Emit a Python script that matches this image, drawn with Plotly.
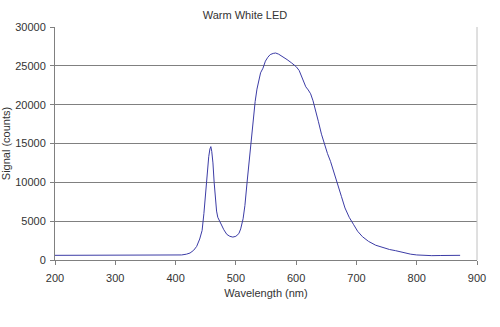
import plotly.graph_objects as go

# Emission spectrum of a warm white LED (wavelength in nm, detector counts)
wavelength_nm = [200, 250, 300, 350, 400, 410, 418, 424, 430, 435, 440, 444, 447, 450,
                 453, 455, 457, 458.5, 460, 462, 464, 466, 468, 470, 473, 476, 480, 485,
                 490, 495, 500, 505, 508, 512, 515, 519, 522, 526, 529, 532, 535, 538,
                 541, 545, 549, 553, 557, 562, 566, 571, 578, 585, 592, 600, 605, 609,
                 613, 616, 620, 624, 628, 632, 637, 642, 647, 652, 657, 663, 669, 675,
                 681, 688, 695, 702, 710, 720, 732, 745, 755, 765, 777, 790, 800, 812,
                 825, 840, 855, 872]
signal_counts = [600, 600, 600, 600, 610, 650, 750, 900, 1250, 1750, 2700, 3800, 6000, 9000,
                 11800, 13300, 14300, 14600, 14000, 12500, 10000, 8000, 6300, 5500, 5000, 4500, 3900, 3300,
                 3050, 2950, 3050, 3400, 4000, 5300, 7000, 10300, 12800, 15800, 18300, 20400, 22000, 23300,
                 24100, 24700, 25600, 26100, 26450, 26600, 26650, 26500, 26200, 25800, 25400, 24900, 24400, 23700,
                 22800, 22300, 21900, 21400, 20500, 19400, 17800, 16200, 14800, 13700, 12700, 11300, 9800, 8200,
                 6700, 5500, 4600, 3700, 3000, 2400, 1900, 1550, 1350, 1200, 950, 750, 650, 580,
                 560, 580, 590, 600]

x_ticks = [200, 300, 400, 500, 600, 700, 800, 900]
y_ticks = [0, 5000, 10000, 15000, 20000, 25000, 30000]

font_family = "Liberation Sans, Arial, sans-serif"
text_color = "#333333"

fig = go.Figure(
    go.Scatter(
        x=wavelength_nm,
        y=signal_counts,
        mode="lines",
        line=dict(color="#3c3ca6", width=1),
        hoverinfo="x+y",
    )
)

fig.update_layout(
    width=500,
    height=327,
    margin=dict(l=55, r=23, t=27, b=67),
    paper_bgcolor="white",
    plot_bgcolor="white",
    showlegend=False,
    font=dict(family=font_family, size=11, color=text_color),
    title=dict(
        text="Warm White LED",
        x=0.49,
        xref="container",
        xanchor="center",
        y=1 - 15 / 327,
        yref="container",
        yanchor="middle",
        font=dict(size=11, color=text_color),
    ),
    xaxis=dict(
        range=[200, 900],
        tickvals=x_ticks,
        ticktext=[str(v) for v in x_ticks],
        ticks="outside",
        ticklen=4,
        tickcolor="#808080",
        ticklabelstandoff=4,
        showline=True,
        linecolor="#808080",
        linewidth=1,
        showgrid=False,
        zeroline=False,
        automargin=False,
        title=dict(text="Wavelength (nm)", standoff=6, font=dict(size=11)),
    ),
    yaxis=dict(
        range=[0, 30000],
        tickvals=y_ticks,
        ticktext=[str(v) for v in y_ticks],
        ticks="outside",
        ticklen=4,
        tickcolor="#808080",
        ticklabelstandoff=2,
        showline=True,
        linecolor="#808080",
        linewidth=1,
        showgrid=True,
        gridcolor="#808080",
        gridwidth=1,
        zeroline=False,
        automargin=False,
        title=dict(text="Signal (counts)", standoff=4, font=dict(size=11)),
    ),
    shapes=[
        dict(type="line", xref="paper", yref="paper", x0=1, x1=1, y0=0, y1=1,
             line=dict(color="#c0c0c0", width=1)),
    ],
)

fig.write_html("out.html")
